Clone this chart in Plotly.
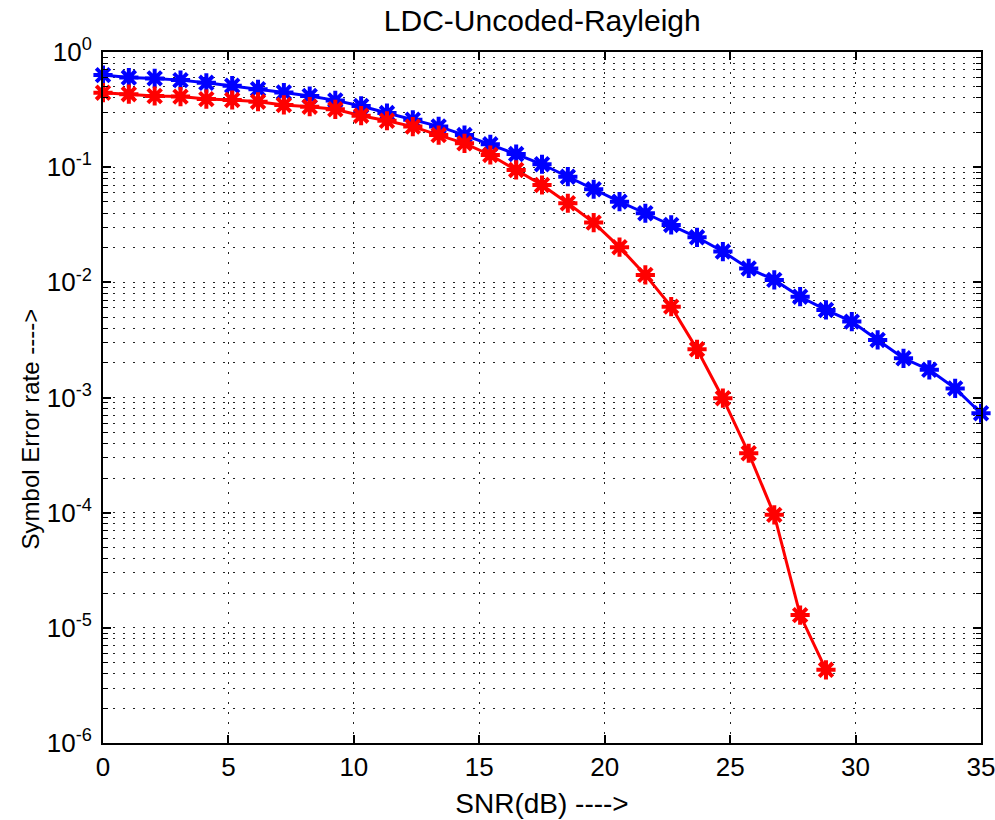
import plotly.graph_objects as go

# SNR points (35 points spanning 0..35 dB)
snr = [0, 1.03, 2.06, 3.09, 4.12, 5.15, 6.18, 7.21, 8.24, 9.26, 10.29, 11.32,
       12.35, 13.38, 14.41, 15.44, 16.47, 17.5, 18.53, 19.56, 20.59, 21.62,
       22.65, 23.68, 24.71, 25.74, 26.76, 27.79, 28.82, 29.85, 30.88, 31.91,
       32.94, 33.97, 35.0]

ser_blue = [0.63, 0.60, 0.59, 0.57, 0.54, 0.51, 0.475, 0.445, 0.415, 0.38,
            0.34, 0.295, 0.258, 0.226, 0.19, 0.158, 0.13, 0.106, 0.0827,
            0.0643, 0.0502, 0.0398, 0.0315, 0.0246, 0.0185, 0.0132, 0.0105,
            0.0075, 0.00576, 0.00456, 0.00316, 0.00219, 0.00174, 0.0012,
            0.00073]

ser_red = [0.443, 0.43, 0.415, 0.41, 0.39, 0.383, 0.37, 0.347, 0.335, 0.318,
           0.28, 0.253, 0.225, 0.19, 0.161, 0.1276, 0.0946, 0.070, 0.0486,
           0.033, 0.0202, 0.0116, 0.00615, 0.00262, 0.000986, 0.000328,
           0.0000957, 0.0000129, 0.00000432]

x_ticks = [0, 5, 10, 15, 20, 25, 30, 35]
y_ticks = [1, 1e-1, 1e-2, 1e-3, 1e-4, 1e-5, 1e-6]
y_ticktext = ["10<sup>0</sup>", "10<sup>-1</sup>", "10<sup>-2</sup>",
              "10<sup>-3</sup>", "10<sup>-4</sup>", "10<sup>-5</sup>",
              "10<sup>-6</sup>"]
y_minor = [k * 10.0 ** e for e in range(-6, 0) for k in range(2, 10)]

FONT = "Liberation Sans, Arial, sans-serif"

fig = go.Figure()
fig.add_trace(go.Scatter(
    x=snr, y=ser_blue, mode="lines+markers", cliponaxis=False,
    line=dict(color="#0000FF", width=3),
    marker=dict(symbol="asterisk-open", size=16, color="#0000FF",
                line=dict(color="#0000FF", width=4)),
    showlegend=False))
fig.add_trace(go.Scatter(
    x=snr[:len(ser_red)], y=ser_red, mode="lines+markers", cliponaxis=False,
    line=dict(color="#FF0000", width=3),
    marker=dict(symbol="asterisk-open", size=16, color="#FF0000",
                line=dict(color="#FF0000", width=4)),
    showlegend=False))

grid_dash = "2px,8px"
fig.update_layout(
    width=995, height=820,
    margin=dict(l=103, r=14, t=52, b=77),
    paper_bgcolor="white", plot_bgcolor="white",
    font=dict(family=FONT, size=26, color="black"),
    title=dict(text="LDC-Uncoded-Rayleigh", x=0.545, xanchor="center",
               y=0.975, yanchor="middle", yref="container",
               font=dict(family=FONT, size=30, color="black")),
    xaxis=dict(
        range=[0, 35], tickmode="array", tickvals=x_ticks,
        ticks="inside", ticklen=8, tickwidth=1.5, tickcolor="black",
        showline=True, linecolor="black", linewidth=2, mirror="ticks",
        showgrid=True, gridcolor="#222", gridwidth=1, griddash=grid_dash,
        zeroline=False, ticklabeloverflow="allow", automargin=False,
        tickfont=dict(family=FONT, size=26),
        title=dict(text="SNR(dB) ---->", standoff=12,
                   font=dict(family=FONT, size=28)),
    ),
    yaxis=dict(
        type="log", range=[-6, 0], tickmode="array", tickvals=y_ticks,
        ticktext=y_ticktext, ticklabelstandoff=4,
        ticks="inside", ticklen=8, tickwidth=1.5, tickcolor="black",
        showline=True, linecolor="black", linewidth=2, mirror="ticks",
        showgrid=True, gridcolor="#222", gridwidth=1, griddash=grid_dash,
        zeroline=False, ticklabeloverflow="allow", automargin=False,
        tickfont=dict(family=FONT, size=26),
        minor=dict(tickmode="array", tickvals=y_minor, ticks="inside",
                   ticklen=5, tickwidth=1.2, tickcolor="black",
                   showgrid=True, gridcolor="#222", gridwidth=1,
                   griddash=grid_dash),
    ),
    annotations=[dict(text="Symbol Error rate ---->", textangle=-90,
                      xref="paper", yref="paper", x=-0.083, y=0.454,
                      xanchor="center", yanchor="middle", showarrow=False,
                      font=dict(family=FONT, size=24, color="black"))],
)

fig.write_html("out.html")
